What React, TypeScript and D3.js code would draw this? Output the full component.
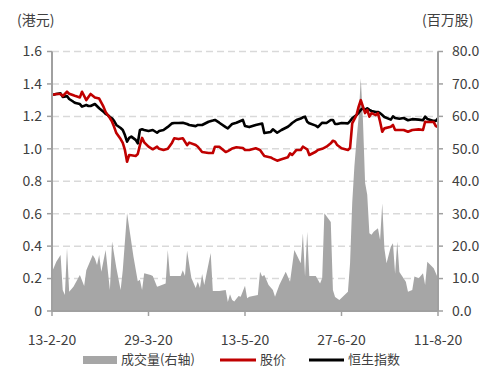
import React from 'react';
import * as d3 from 'd3';

const START_DATE = new Date(2020, 1, 13);

// Trading-day offsets (days from 13-2-20) for the price / index series
const priceDays = [0,2,4,5,7,8,10,11,13,14,16,17,18,20,22,24,25,26,27,28,29,30,32,33,34,35,36,37,39,40,41,42,43,45,47,49,50,52,54,56,57,59,61,63,64,67,68,70,73,75,76,78,81,82,83,84,86,89,90,92,95,97,98,99,102,103,105,107,110,111,112,114,116,117,118,119,120,123,124,126,128,130,131,132,133,135,138,139,140,142,143,144,145,146,147,148,149,151,152,153,154,155,158,159,160,162,164,166,168,171,173,174,175,178,179,180];
// 股价 (HKD)
const stockPrice = [1.332,1.338,1.338,1.325,1.352,1.34,1.33,1.325,1.317,1.352,1.30,1.32,1.338,1.317,1.31,1.26,1.227,1.208,1.19,1.167,1.134,1.097,1.06,1.036,0.993,0.92,0.962,0.96,0.956,0.968,1.023,1.067,1.04,1.013,0.997,1.013,1.0,0.993,1.0,1.038,1.065,1.06,1.065,1.023,1.038,1.023,1.013,0.98,0.974,0.974,1.013,1.013,0.98,0.986,0.993,1.002,1.01,1.005,0.993,0.993,1.003,0.993,0.974,0.956,0.947,0.94,0.927,0.936,0.948,0.972,0.962,0.993,0.993,1.013,1.005,0.997,0.962,0.982,0.993,1.0,1.013,1.034,1.05,1.044,1.023,1.003,0.993,1.005,1.157,1.208,1.26,1.30,1.26,1.22,1.24,1.198,1.22,1.208,1.22,1.167,1.105,1.126,1.136,1.147,1.116,1.116,1.116,1.105,1.116,1.12,1.116,1.167,1.165,1.165,1.14,1.134];
// 恒生指数 (rebased to the price scale)
const hsiIndex = [1.332,1.338,1.342,1.32,1.325,1.307,1.29,1.282,1.276,1.26,1.27,1.264,1.264,1.276,1.25,1.229,1.215,1.208,1.196,1.188,1.171,1.147,1.128,1.116,1.085,1.044,1.067,1.075,1.055,1.034,1.116,1.12,1.116,1.11,1.116,1.099,1.11,1.116,1.135,1.157,1.159,1.159,1.161,1.153,1.147,1.14,1.147,1.147,1.167,1.174,1.178,1.161,1.134,1.126,1.14,1.153,1.161,1.178,1.14,1.134,1.147,1.153,1.156,1.097,1.104,1.12,1.099,1.116,1.136,1.147,1.159,1.178,1.187,1.194,1.198,1.167,1.157,1.143,1.134,1.161,1.159,1.178,1.178,1.153,1.153,1.159,1.157,1.171,1.188,1.208,1.222,1.24,1.25,1.24,1.25,1.24,1.233,1.227,1.227,1.22,1.208,1.196,1.18,1.2,1.19,1.185,1.19,1.176,1.183,1.18,1.176,1.198,1.184,1.172,1.172,1.188];

// 成交量 (million shares)
const volumeDays = [0,2,4,5,6,7,8,10,13,15,16,19,20,21,22,23,25,27,28,30,32,33,35,38,40,41,42,43,46,47,49,50,53,54,55,60,61,62,63,65,67,68,69,70,71,74,75,78,81,82,83,84,85,87,88,90,91,92,96,97,98,99,101,103,104,106,109,111,113,116,117,118,119,120,123,124,125,126,127,130,131,132,134,138,139,140,141,142,143,144,145,146,147,148,149,150,152,153,154,155,156,158,159,160,161,162,165,166,168,169,171,173,174,175,178,180];
const volume = [12.0,15.2,17.3,6.5,4.9,19.4,5.9,7.5,11.1,7.7,12.6,17.3,16.2,14.2,17.3,12.1,18.8,6.5,21.4,13.3,6.5,12.6,30.2,16.7,9.2,9.6,6.5,11.6,11.1,10.8,7.5,7.7,8.5,18.8,10.8,10.8,12.6,10.8,18.6,10.2,7.1,9.0,7.1,11.4,8.0,17.9,6.2,6.2,6.5,2.8,5.2,3.4,2.9,4.6,4.4,7.8,3.9,4.4,4.9,12.1,10.6,11.1,8.0,6.5,4.4,8.0,12.1,9.0,18.8,14.7,24.0,10.6,24.4,10.8,10.8,9.6,8.5,10.2,30.1,27.4,6.5,4.3,3.4,5.9,14.8,33.3,44.5,52.7,59.9,71.7,58.9,39.5,35.8,24.0,23.5,24.4,25.5,21.9,33.2,19.3,14.7,19.8,20.9,11.5,21.4,12.0,9.0,5.9,6.5,10.6,10.1,11.6,8.0,15.2,13.2,10.1];

const xTickDays = [0, 45, 90, 135, 180];
const leftTicks = [0, 0.2, 0.4, 0.6, 0.8, 1.0, 1.2, 1.4, 1.6];
const rightTicks = [0, 10, 20, 30, 40, 50, 60, 70, 80];
const leftUnit = '(港元)';
const rightUnit = '(百万股)';
const legendLabels = ['成交量(右轴)', '股价', '恒生指数'];

const W = 494, H = 367;
const M = { left: 52, right: 438, top: 51.5, bottom: 311 };
const FONT = '"Noto Sans CJK SC", "Noto Sans", sans-serif';
const TXT = '#404040';
const AXIS = '#a0a0a0';
const RED = '#c00000';
const GRAY = '#a6a6a6';

const toDate = (d: number) => d3.timeDay.offset(START_DATE, d);

export default function App() {
  const x = d3.scaleTime()
    .domain([toDate(0), toDate(180)])
    .range([M.left, M.right]);
  const yL = d3.scaleLinear().domain([0, 1.6]).range([M.bottom, M.top]);
  const yR = d3.scaleLinear().domain([0, 80]).range([M.bottom, M.top]);
  const fmt = d3.timeFormat('%-d-%-m-%y');

  const volData = volumeDays.map((d, i) => ({ date: toDate(d), v: volume[i] }));
  const priceData = priceDays.map((d, i) => ({ date: toDate(d), p: stockPrice[i], h: hsiIndex[i] }));

  const area = d3.area<any>()
    .x(d => x(d.date))
    .y0(yR(0))
    .y1(d => yR(d.v));
  const linePrice = d3.line<any>().x(d => x(d.date)).y(d => yL(d.p));
  const lineHsi = d3.line<any>().x(d => x(d.date)).y(d => yL(d.h));

  return (
    <svg width={W} height={H} style={{ position: 'absolute', left: 0, top: 0, background: '#fff' }} fontFamily={FONT}>
      <rect x={0} y={0} width={W} height={H} fill="#fff" />
      {/* gridlines */}
      {leftTicks.filter(t => t > 0).map(t => (
        <line key={'g' + t} x1={M.left} x2={M.right} y1={yL(t)} y2={yL(t)}
          stroke="#d9d9d9" strokeWidth={1.5} strokeDasharray="7,4" />
      ))}
      {/* volume area */}
      <path d={area(volData) || ''} fill={GRAY} />
      {/* lines */}
      <path d={lineHsi(priceData) || ''} fill="none" stroke="#000" strokeWidth={2.6} strokeLinejoin="round" />
      <path d={linePrice(priceData) || ''} fill="none" stroke={RED} strokeWidth={2.6} strokeLinejoin="round" />
      {/* axes lines */}
      <line x1={M.left} x2={M.left} y1={M.top} y2={M.bottom} stroke={AXIS} strokeWidth={2} />
      <line x1={M.right} x2={M.right} y1={M.top} y2={M.bottom} stroke={AXIS} strokeWidth={2} />
      <line x1={M.left} x2={M.right} y1={M.bottom} y2={M.bottom} stroke={AXIS} strokeWidth={2} />
      {/* left ticks */}
      {leftTicks.map(t => (
        <g key={'l' + t}>
          <line x1={M.left - 5} x2={M.left} y1={yL(t)} y2={yL(t)} stroke={AXIS} strokeWidth={1.5} />
          <text x={42} y={yL(t)} dy="0.35em" textAnchor="end" fontSize={14} fill={TXT}>
            {t === 0 ? '0' : t.toFixed(1)}
          </text>
        </g>
      ))}
      {/* right ticks */}
      {rightTicks.map(t => (
        <g key={'r' + t}>
          <line x1={M.right} x2={M.right + 5} y1={yR(t)} y2={yR(t)} stroke={AXIS} strokeWidth={1.5} />
          <text x={452} y={yR(t)} dy="0.35em" textAnchor="start" fontSize={14} fill={TXT}>
            {t.toFixed(1)}
          </text>
        </g>
      ))}
      {/* x ticks */}
      {xTickDays.map(d => (
        <g key={'x' + d}>
          <line x1={x(toDate(d))} x2={x(toDate(d))} y1={M.bottom} y2={M.bottom + 5} stroke={AXIS} strokeWidth={1.5} />
          <text x={x(toDate(d))} y={340} dy="0.35em" textAnchor="middle" fontSize={14} fill={TXT}>
            {fmt(toDate(d))}
          </text>
        </g>
      ))}
      {/* units */}
      <text x={17} y={20} dy="0.35em" fontSize={14} fill={TXT}>{leftUnit}</text>
      <text x={422} y={20} dy="0.35em" fontSize={14} fill={TXT}>{rightUnit}</text>
      {/* legend */}
      <rect x={83} y={356} width={34} height={8} fill={GRAY} />
      <text x={121} y={359} dy="0.35em" fontSize={13} fill={TXT}>{legendLabels[0]}</text>
      <line x1={220} x2={256} y1={360} y2={360} stroke={RED} strokeWidth={3} />
      <text x={260} y={359} dy="0.35em" fontSize={13} fill={TXT}>{legendLabels[1]}</text>
      <line x1={309} x2={344} y1={360} y2={360} stroke="#000" strokeWidth={3} />
      <text x={348} y={359} dy="0.35em" fontSize={13} fill={TXT}>{legendLabels[2]}</text>
    </svg>
  );
}
